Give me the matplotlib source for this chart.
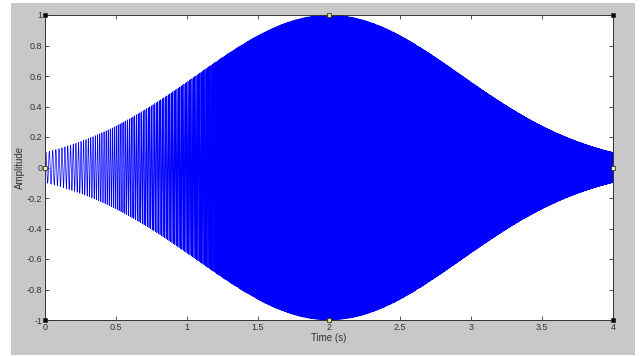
import numpy as np
import matplotlib.pyplot as plt
from matplotlib.patches import Rectangle

plt.rcParams['font.family'] = ['Liberation Sans', 'DejaVu Sans']

# signal parameters
fs = 8000                 # samples per second
duration = 4.0            # s
f_start = 40.0            # Hz at t=0
f_end = 300.0             # Hz at t=4
env_center = 2.0          # s, peak of the envelope
env_sigma = 0.93          # s, envelope width (amplitude ~0.09 at the edges)

xticks = [0, 0.5, 1, 1.5, 2, 2.5, 3, 3.5, 4]
xtick_labels = ['0', '0.5', '1', '1.5', '2', '2.5', '3', '3.5', '4']
yticks = [-1, -0.8, -0.6, -0.4, -0.2, 0, 0.2, 0.4, 0.6, 0.8, 1]
ytick_labels = ['-1', '-0.8', '-0.6', '-0.4', '-0.2', '0', '0.2', '0.4', '0.6', '0.8', '1']

t = np.arange(0, duration + 1.0 / fs, 1.0 / fs)
k = (f_end - f_start) / duration
phase = 2 * np.pi * (f_start * t + 0.5 * k * t ** 2)
env = np.exp(-(t - env_center) ** 2 / (2 * env_sigma ** 2))
y = env * np.sin(phase)

fig = plt.figure(figsize=(6.44, 3.56), dpi=100, facecolor='white')
# matlab figure window grey
fig.patches.append(Rectangle((11 / 644, 1 / 356), 624 / 644, 352 / 356,
                             transform=fig.transFigure, facecolor='#c8c8c8',
                             edgecolor='none', zorder=-1))

ax = fig.add_axes([45 / 644, 36 / 356, 568 / 644, 305 / 356])
ax.plot(t, y, color='#0000ff', lw=0.5)

ax.set_xlim(0, 4)
ax.set_ylim(-1, 1)
ax.set_xticks(xticks)
ax.set_xticklabels(xtick_labels)
ax.set_yticks(yticks)
ax.set_yticklabels(ytick_labels)
ax.tick_params(direction='in', top=True, right=True, length=3, width=0.6,
               labelsize=6.5, colors='#333333', pad=2)
for s in ax.spines.values():
    s.set_color('#333333')
    s.set_linewidth(0.7)

ax.set_xlabel('Time (s)', fontsize=7, color='#333333', labelpad=1)
ax.set_ylabel('Amplitude', fontsize=7, color='#333333', labelpad=1)

# plot-edit selection handles
for hx, hy, fc in [(0, 0, 'black'), (0, 1, 'black'), (1, 0, 'black'), (1, 1, 'black'),
                   (0.5, 0, '#e8e070'), (0.5, 1, '#e8e070'),
                   (0, 0.5, '#f0f0c0'), (1, 0.5, '#f0f0c0')]:
    ax.plot(hx, hy, 's', ms=3.5, mfc=fc, mec='#333333', mew=0.6,
            transform=ax.transAxes, clip_on=False, zorder=5)

fig.savefig('out.png', dpi=100, facecolor=fig.get_facecolor())
